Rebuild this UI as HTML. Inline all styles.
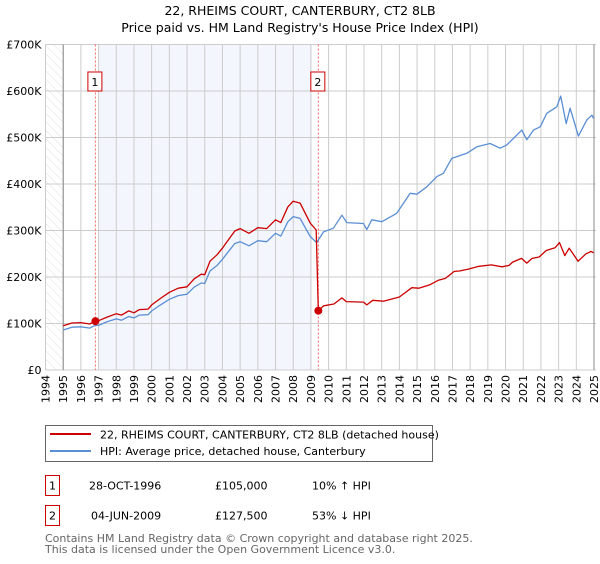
<!DOCTYPE html>
<html><head><meta charset="utf-8"><style>
body{margin:0;background:#fff;font-family:"DejaVu Sans","Liberation Sans",sans-serif;}
svg text{font-family:"DejaVu Sans","Liberation Sans",sans-serif;}
</style></head><body>
<svg id="chart" width="600" height="560" xmlns="http://www.w3.org/2000/svg">
<defs><pattern id="hatch" width="6" height="6" patternUnits="userSpaceOnUse" patternTransform="rotate(-45)"><line x1="0" y1="0" x2="0" y2="6" stroke="#d8d8d8" stroke-width="0.8"/></pattern></defs>
<text x="300" y="15" text-anchor="middle" font-size="12.5">22, RHEIMS COURT, CANTERBURY, CT2 8LB</text>
<text x="300" y="32" text-anchor="middle" font-size="12.5">Price paid vs. HM Land Registry's House Price Index (HPI)</text>
<g id="plot"></g>
<g>
<rect x="45.5" y="425.5" width="387" height="36" fill="#fff" stroke="#666"/>
<line x1="50" y1="434" x2="91" y2="434" stroke="#cc0000" stroke-width="2"/>
<text x="100" y="438.5" font-size="11">22, RHEIMS COURT, CANTERBURY, CT2 8LB (detached house)</text>
<line x1="50" y1="451" x2="91" y2="451" stroke="#5b8fd4" stroke-width="2"/>
<text x="100" y="455" font-size="11">HPI: Average price, detached house, Canterbury</text>
</g>
<g font-size="11">
<rect x="45.5" y="475.5" width="14" height="20" fill="#fff" stroke="#cc0000"/>
<text x="52.5" y="489.5" text-anchor="middle">1</text>
<text x="89" y="489.5">28-OCT-1996</text><text x="215" y="489.5">£105,000</text><text x="312" y="489.5">10% ↑ HPI</text>
<rect x="45.5" y="505.5" width="14" height="20" fill="#fff" stroke="#cc0000"/>
<text x="52.5" y="519.5" text-anchor="middle">2</text>
<text x="91" y="519.5">04-JUN-2009</text><text x="215" y="519.5">£127,500</text><text x="312" y="519.5">53% ↓ HPI</text>
</g>
<text x="45" y="542" font-size="11" fill="#666">Contains HM Land Registry data © Crown copyright and database right 2025.</text>
<text x="45" y="553" font-size="11" fill="#666">This data is licensed under the Open Government Licence v3.0.</text>
</svg>
<script>
const yearTicks=[1994,1995,1996,1997,1998,1999,2000,2001,2002,2003,2004,2005,2006,2007,2008,2009,2010,2011,2012,2013,2014,2015,2016,2017,2018,2019,2020,2021,2022,2023,2024,2025];
const priceTicks=[0,100000,200000,300000,400000,500000,600000,700000];
const priceTickLabels=["£0","£100K","£200K","£300K","£400K","£500K","£600K","£700K"];
const hpiYears=[1995.0,1995.5,1996,1996.5,1996.8,1997,1997.5,1998,1998.3,1998.7,1999,1999.3,1999.8,2000,2000.5,2001,2001.5,2002,2002.4,2002.8,2003,2003.3,2003.7,2004,2004.2,2004.7,2005,2005.5,2006,2006.5,2007,2007.3,2007.7,2008,2008.39,2008.96,2009.33,2009.71,2010.27,2010.75,2011.03,2011.97,2012.16,2012.44,2013.01,2013.85,2014.61,2014.99,2015.55,2016.12,2016.49,2016.96,2017.25,2017.81,2018.38,2019.13,2019.7,2020.07,2020.45,2020.92,2021.2,2021.58,2021.96,2022.33,2022.9,2023.12,2023.43,2023.65,2024.12,2024.6,2024.88,2024.97];
const hpiValues=[86,92,93,90,96,96,104,110,107,115,112,118,119,127,140,152,160,163,178,187,186,213,225,238,248,272,276,267,278,276,294,288,319,330,326,287,274,297,305,333,317,315,302,323,319,337,380,378,394,416,423,455,459,466,480,487,477,484,498,516,495,516,523,552,566,589,530,563,503,538,548,541];
const priceYears=[1995.0,1995.5,1996,1996.5,1996.82,1997,1997.5,1998,1998.3,1998.7,1999,1999.3,1999.8,2000,2000.5,2001,2001.5,2002,2002.4,2002.8,2003,2003.3,2003.7,2004,2004.2,2004.7,2005,2005.5,2006,2006.5,2007,2007.3,2007.7,2008,2008.39,2008.96,2009.3,2009.42,2009.72,2010.3,2010.75,2011,2011.97,2012.16,2012.5,2013.1,2014,2014.7,2015.1,2015.7,2016.2,2016.6,2017.1,2017.4,2017.9,2018.5,2019.2,2019.8,2020.2,2020.4,2020.9,2021.2,2021.5,2021.9,2022.3,2022.8,2023.05,2023.35,2023.6,2024.1,2024.55,2024.85,2024.97];
const priceValues=[95,101,102,99,105,106,114,121,118,127,123,130,131,140,154,167,176,179,196,206,205,234,248,262,273,299,304,294,306,304,323,317,351,363,359,316,301,127.5,138,142,155,147,146,140,150,148,157,177,176,183,193,197,212,213,217,223,226,222,225,232,240,230,240,243,257,263,274,246,262,234,250,255,252];
const saleYears=[1996.82,2009.42];
const salePrices=[105000,127500];
const saleLabels=["1","2"];

const L=45.5,R=594,T=44.5,B=370,y0=1994,y1=2025,vmax=700000;
const xs=y=>L+(y-y0)/(y1-y0)*(R-L);
const ys=v=>B-v/vmax*(B-T);
const NS="http://www.w3.org/2000/svg";
const g=document.getElementById('plot');
function mk(t,a){const e=document.createElementNS(NS,t);for(const k in a)e.setAttribute(k,a[k]);g.appendChild(e);return e;}
let e;
e=mk('rect',{x:xs(1997.0),y:T,width:xs(2009.05)-xs(1997.0),height:B-T,fill:'#f3f6fd'});


e=mk('rect',{x:L,y:T,width:xs(1995)-L,height:B-T,fill:'url(#hatch)'});


yearTicks.forEach(y=>{
 const l=mk('line',{x1:xs(y),x2:xs(y),y1:T,y2:B,stroke:'#ccc','stroke-width':1});
 
 
 const t=mk('text',{x:0,y:0,'font-size':11,'text-anchor':'end',transform:`translate(${xs(y)+4},${B+5}) rotate(-90)`});
 t.textContent=y;
 
 
});
priceTicks.forEach((v,i)=>{
 const l=mk('line',{x1:L,x2:R+2,y1:ys(v),y2:ys(v),stroke:'#ccc','stroke-width':1});
 
 
 const t=mk('text',{x:L-4,y:ys(v)+4,'font-size':11,'text-anchor':'end'});
 t.textContent=priceTickLabels[i];
 
 
});
e=mk('line',{x1:xs(1995),x2:xs(1995),y1:T,y2:B,stroke:'#888'});


e=mk('line',{x1:R,x2:R,y1:T,y2:B,stroke:'#888'});


saleYears.forEach((y,i)=>{
 const l=mk('line',{x1:xs(y),x2:xs(y),y1:T,y2:B,stroke:'#ff6666','stroke-dasharray':'2,2'});
 
 
 const r=mk('rect',{x:xs(y)-7.5,y:72,width:14,height:19,fill:'#fff',stroke:'#cc0000'});
 
 
 const t=mk('text',{x:xs(y)-0.5,y:86,'font-size':11,'text-anchor':'middle'});
 t.textContent=saleLabels[i];
 
 
});
function line(xa,va,col,name){
 const d=xa.map((y,i)=>(i?'L':'M')+xs(y).toFixed(1)+','+ys(va[i]*1000).toFixed(1)).join('');
 const p=mk('path',{d:d,fill:'none',stroke:col,'stroke-width':1.3,'stroke-linejoin':'round'});
 
 
}
line(hpiYears,hpiValues,'#5b8fd4','hpi-line');
line(priceYears,priceValues,'#cc0000','price-paid-line');
saleYears.forEach((y,i)=>{
 const c=mk('circle',{cx:xs(y),cy:ys(salePrices[i]),r:4,fill:'#cc0000'});
 
 
});
</script>
</body></html>
